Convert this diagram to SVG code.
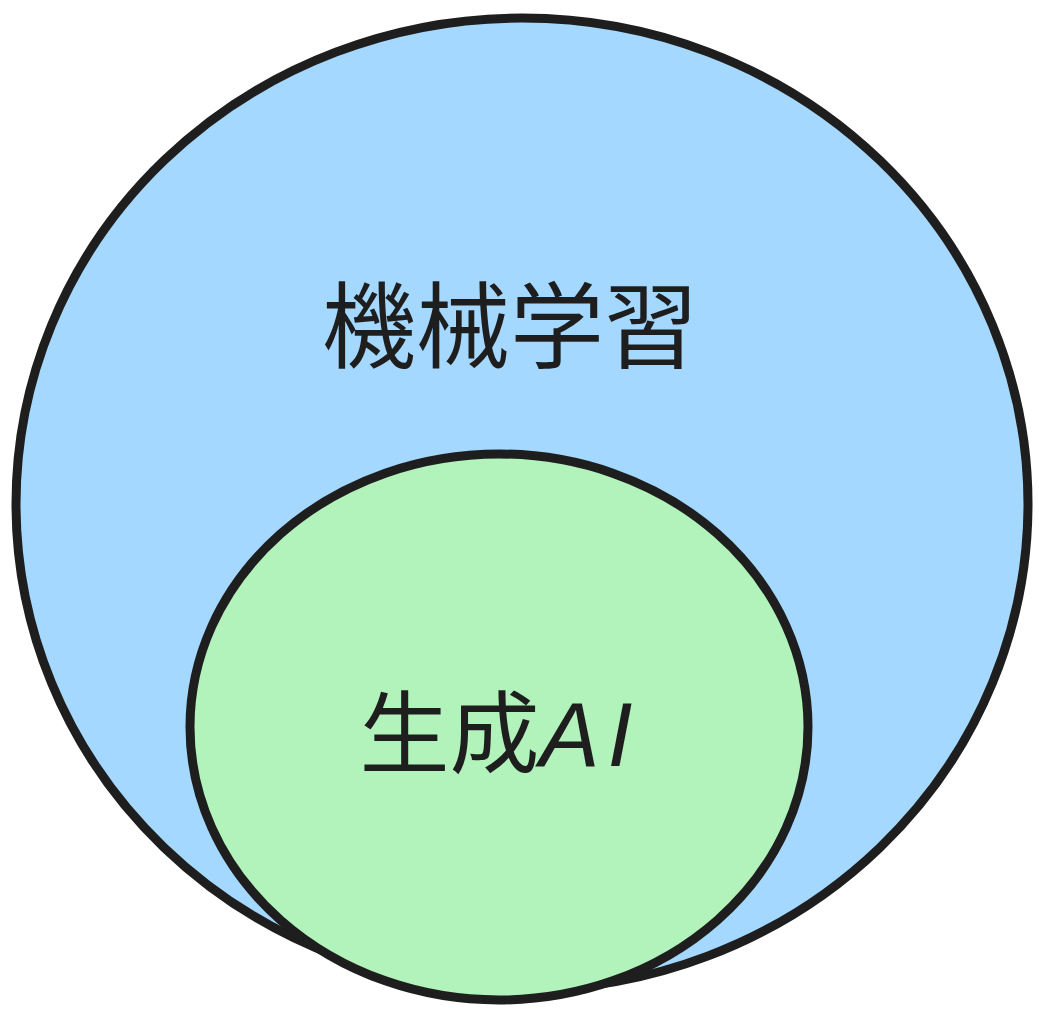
<svg xmlns="http://www.w3.org/2000/svg" width="1039" height="1024" viewBox="0 0 1039 1024">
<style>
.shape{stroke:#1e1e1e;stroke-width:9;}
.lbl{font-family:"Noto Sans CJK JP","Noto Sans",sans-serif;fill:#1e1e1e;text-anchor:middle;}
</style>
<rect width="1039" height="1024" fill="#ffffff"/>
<g id="ml">
<ellipse class="shape" cx="522" cy="504" rx="506" ry="486" fill="#a5d8ff"/>
<text class="lbl" x="510" y="361" font-size="94">機械学習</text>
</g>
<g id="genai">
<ellipse class="shape" cx="499" cy="727" rx="309" ry="273" fill="#b2f2bb"/>
<text class="lbl" x="500" y="766" font-size="90">生成<tspan font-family="Liberation Sans, sans-serif" font-style="italic" letter-spacing="8">AI</tspan></text>
</g>
<g id="connectors"></g>
</svg>
